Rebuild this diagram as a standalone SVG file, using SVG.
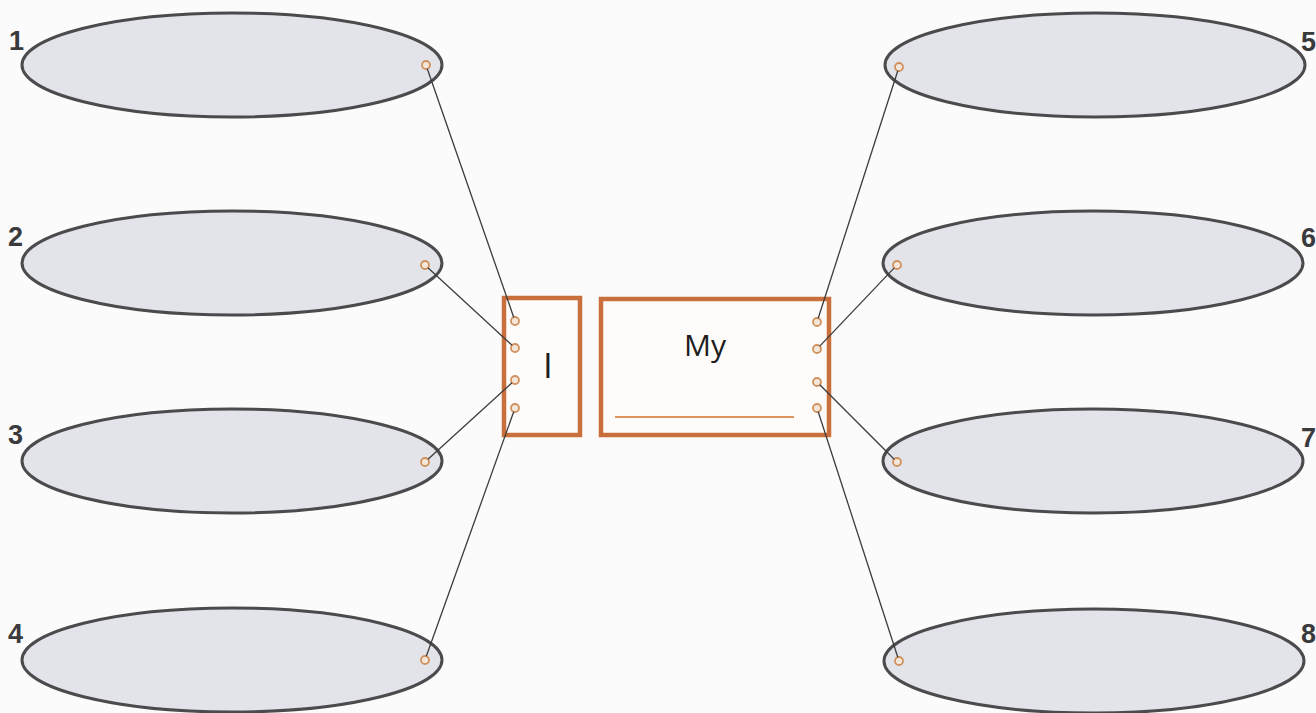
<svg xmlns="http://www.w3.org/2000/svg" width="1316" height="713" viewBox="0 0 1316 713">
<defs>
<style>
.bubble{fill:#e3e4ea;stroke:#4b4b4d;stroke-width:3}
.dot{fill:#f4e6d8;stroke:#cf915e;stroke-width:1.8}
.box{fill:#fdfcfb;stroke:#c96f3b;stroke-width:4.5}
.num{font-family:"Liberation Sans",Arial,sans-serif;font-weight:bold;font-size:27px;fill:#3a3a3c}
.lbl{font-family:"Open Sans","Noto Sans",sans-serif;fill:#1e1e1e}
.conn{stroke:#3c3c3e;stroke-width:1.3;fill:none}
</style>
</defs>
<rect width="1316" height="713" fill="#fbfbfb"/>
<g id="node1"><ellipse class="bubble" cx="232" cy="65" rx="210" ry="52"/><circle class="dot" cx="426" cy="65" r="4"/><text class="num" x="9" y="50">1</text></g>
<g id="node2"><ellipse class="bubble" cx="232" cy="263" rx="210" ry="52"/><circle class="dot" cx="425" cy="265" r="4"/><text class="num" x="8" y="246">2</text></g>
<g id="node3"><ellipse class="bubble" cx="232" cy="461" rx="210" ry="52"/><circle class="dot" cx="425" cy="462" r="4"/><text class="num" x="8" y="444">3</text></g>
<g id="node4"><ellipse class="bubble" cx="232" cy="660" rx="210" ry="52"/><circle class="dot" cx="425" cy="660" r="4"/><text class="num" x="8" y="643">4</text></g>
<g id="node5"><ellipse class="bubble" cx="1095" cy="65" rx="210" ry="52"/><circle class="dot" cx="899" cy="67" r="4"/><text class="num" x="1316" y="51" text-anchor="end">5</text></g>
<g id="node6"><ellipse class="bubble" cx="1093" cy="263" rx="210" ry="52"/><circle class="dot" cx="897" cy="265" r="4"/><text class="num" x="1316" y="247" text-anchor="end">6</text></g>
<g id="node7"><ellipse class="bubble" cx="1093" cy="461" rx="210" ry="52"/><circle class="dot" cx="897" cy="462" r="4"/><text class="num" x="1316" y="447" text-anchor="end">7</text></g>
<g id="node8"><ellipse class="bubble" cx="1094" cy="661" rx="210" ry="52"/><circle class="dot" cx="899" cy="661" r="4"/><text class="num" x="1316" y="643" text-anchor="end">8</text></g>
<g id="nodeI">
<rect class="box" x="504" y="298" width="76" height="137"/>
<text class="lbl" x="548" y="378" font-size="35" text-anchor="middle">I</text>
<circle class="dot" cx="515" cy="321" r="4"/>
<circle class="dot" cx="515" cy="348" r="4"/>
<circle class="dot" cx="515" cy="380" r="4"/>
<circle class="dot" cx="515" cy="408" r="4"/>
</g>
<g id="nodeMy">
<rect class="box" x="601" y="299" width="228" height="136"/>
<text class="lbl" x="705" y="356" font-size="30" text-anchor="middle">My</text>
<line x1="615" y1="417" x2="794" y2="417" stroke="#e0955e" stroke-width="1.8"/>
<circle class="dot" cx="817" cy="322" r="4"/>
<circle class="dot" cx="817" cy="349" r="4"/>
<circle class="dot" cx="817" cy="382" r="4"/>
<circle class="dot" cx="817" cy="408" r="4"/>
</g>
<g id="connectors">
<line class="conn" x1="427.3" y1="68.8" x2="513.7" y2="317.2"/>
<line class="conn" x1="427.9" y1="267.7" x2="512.1" y2="345.3"/>
<line class="conn" x1="428" y1="459.3" x2="512" y2="382.7"/>
<line class="conn" x1="426.3" y1="656.2" x2="513.7" y2="411.8"/>
<line class="conn" x1="897.8" y1="70.8" x2="818.2" y2="318.2"/>
<line class="conn" x1="894.2" y1="267.9" x2="819.8" y2="346.1"/>
<line class="conn" x1="894.2" y1="459.2" x2="819.8" y2="384.8"/>
<line class="conn" x1="897.8" y1="657.2" x2="818.2" y2="411.8"/>
</g>
</svg>
